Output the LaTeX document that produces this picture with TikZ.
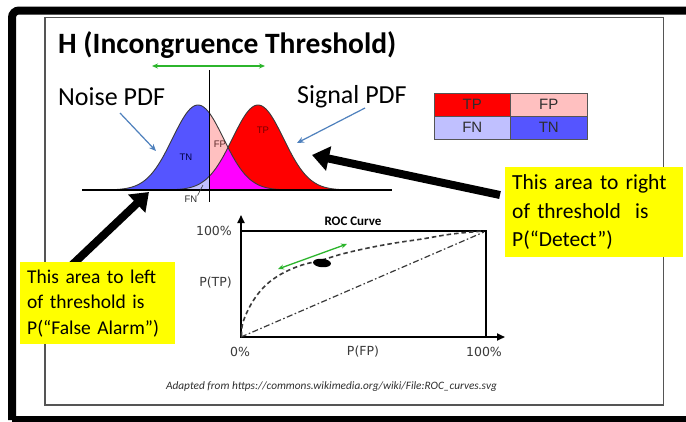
\documentclass[tikz,border=0pt]{standalone}
\usepackage{fontspec}
\setmainfont{Carlito}
\newfontfamily\legfont{Liberation Sans}
\newfontfamily\rocfont{DejaVu Sans}
\usetikzlibrary{arrows.meta,shapes.geometric}
\definecolor{tnblue}{HTML}{5555FF}
\definecolor{fnblue}{HTML}{C0C0FF}
\definecolor{fppink}{HTML}{FFC0C0}
\definecolor{tpred}{HTML}{FF0000}
\definecolor{overlap}{HTML}{FF00FF}
\definecolor{callblue}{HTML}{4F81BD}
\definecolor{movegreen}{HTML}{2CB52C}
\definecolor{framegray}{HTML}{555555}
\definecolor{textgray}{HTML}{2E2E2E}
\definecolor{rocgray}{HTML}{3A3A3A}
\definecolor{hiyellow}{HTML}{FFFF00}
\tikzset{
  curveline/.style={draw=rocgray, line width=0.9pt},
  legcell/.style={draw=framegray, line width=1pt, minimum width=76.5pt, minimum height=23pt, inner sep=0pt, font=\legfont\fontsize{15}{17}\selectfont, text=textgray},
  pdflabel/.style={font=\legfont\fontsize{9.5}{11}\selectfont, inner sep=0pt},
  callout/.style={fill=hiyellow, anchor=north west, inner xsep=7pt, inner ysep=0pt, align=left},
  bigarrow/.style={line width=8pt, -{Triangle[length=17pt,width=24pt]}},
  pointer/.style={draw=callblue, line width=1.2pt, -{Stealth[length=7pt,width=6pt]}},
  slide/.style={draw=movegreen, line width=1.3pt, {Stealth[length=6pt,width=5pt]}-{Stealth[length=6pt,width=5pt]}},
  rocaxis/.style={line width=1.8pt, -{Triangle[length=8pt,width=7pt]}},
  roctext/.style={font=\rocfont\fontsize{12.5}{14}\selectfont, text=rocgray, inner sep=0pt},
  declare function={noise(\t)=190-85*exp(-(\t-198)*(\t-198)/1300.5);
                    signal(\t)=190-85*exp(-(\t-258)*(\t-258)/1300.5);}
}
\begin{document}
\begin{tikzpicture}[x=1pt,y=-1pt]
\useasboundingbox (0,0) rectangle (686,421);
\fill[white] (0,0) rectangle (686,421);
% outer frame
\draw[line width=8pt, rounded corners=7pt] (12,420) -- (12,10.5) -- (700,10.5);
\draw[line width=8pt] (12,420) -- (700,420);
% inner frame
\draw[framegray, line width=1.6pt] (45,17.5) rectangle (663.5,405);

% title
\node[anchor=base west, inner sep=0pt, font=\bfseries\fontsize{29.5}{32}\selectfont] (title) at (58,53) {H (Incongruence Threshold)};

% threshold slider
\coordinate (slideL) at (152,66);
\coordinate (slideR) at (265,66);
\draw[slide] (slideL) -- (slideR);

% PDF regions
\fill[tnblue] (113,190) -- plot[domain=113:209,samples=60] (\x,{noise(\x)}) -- (209,190) -- cycle;
\fill[fppink] (209,190) -- plot[domain=209:288,samples=50] (\x,{noise(\x)}) -- cycle;
\fill[tpred] (209,190) -- plot[domain=209:345,samples=80] (\x,{signal(\x)}) -- cycle;
\fill[overlap] (209,190) -- plot[domain=209:228,samples=20] (\x,{signal(\x)}) -- plot[domain=228:288,samples=40] (\x,{noise(\x)}) -- cycle;
\fill[fnblue] (170,190) -- plot[domain=170:209,samples=30] (\x,{signal(\x)}) -- (209,190) -- cycle;
\draw[curveline] plot[domain=110:290,samples=100] (\x,{noise(\x)});
\draw[curveline] plot[domain=168:348,samples=100] (\x,{signal(\x)});

% baseline and threshold
\coordinate (baseL) at (82,190);
\coordinate (baseR) at (392,190);
\draw[line width=1.1pt] (baseL) -- (baseR);
\coordinate (thrT) at (209,70);
\coordinate (thrB) at (209,202);
\draw[line width=1pt] (thrT) -- (thrB);

% region labels
\node[pdflabel, text=black!75!blue] (lblTN) at (186,157) {TN};
\node[pdflabel, text=black!55!red] (lblTP) at (263,130) {TP};
\node[pdflabel, text=textgray!80!red] (lblFP) at (220,144) {FP};
\node[pdflabel, text=textgray] (lblFN) at (191,199) {FN};
\coordinate (fnpt) at (203,185);
\draw[rocgray, line width=0.6pt] (lblFN.north east) -- (fnpt);

% PDF captions
\node[anchor=base west, inner sep=0pt, font=\fontsize{26}{28}\selectfont] (noiselbl) at (58,105) {Noise PDF};
\node[anchor=base west, inner sep=0pt, font=\fontsize{26}{28}\selectfont] (signallbl) at (297,103) {Signal PDF};
\coordinate (noiseA) at (120,113);
\coordinate (noiseB) at (156,151);
\draw[pointer] (noiseA) -- (noiseB);
\coordinate (sigA) at (365,108);
\coordinate (sigB) at (297,143);
\draw[pointer] (sigA) -- (sigB);

% legend
\node[legcell, fill=tpred] (legTP) at (472.25,104.5) {TP};
\node[legcell, fill=fppink] (legFP) at (548.75,104.5) {FP};
\node[legcell, fill=fnblue] (legFN) at (472.25,127.5) {FN};
\node[legcell, fill=tnblue] (legTN) at (548.75,127.5) {TN};

% callouts and big arrows
\coordinate (rtail) at (500,195);
\coordinate (rtip) at (312,155);
\draw[bigarrow] (rtail) -- (rtip);
\coordinate (ltail) at (72,265);
\coordinate (ltip) at (149,192);
\draw[bigarrow] (ltail) -- (ltip);
\node[callout, text width=164pt, minimum height=90pt, font=\fontsize{21.5}{28.5}\selectfont] (rbox) at (505,167)
  {This area to right\\of threshold~ is\\P(“Detect”)};
\node[callout, text width=141pt, minimum height=82pt, font=\fontsize{19.5}{25.5}\selectfont] (lbox) at (20,262)
  {This area to left\\of threshold is\\P(“False Alarm”)};

% ROC chart
\coordinate (roco) at (241,337);
\coordinate (rocne) at (486,231);
\coordinate (ytop) at (241,215);
\coordinate (xend) at (505,337);
\draw[line width=1.5pt] (roco) rectangle (rocne);
\draw[rocaxis] (roco) -- (ytop);
\draw[rocaxis] (roco) -- (xend);
\coordinate (diagend) at (484,232);
\draw[rocgray, line width=1.2pt, dash pattern=on 6pt off 2.5pt on 1.5pt off 2.5pt] (roco) -- (diagend);
\draw[rocgray, line width=1.6pt, dash pattern=on 4.5pt off 3pt] plot[smooth, tension=0.6] coordinates {(241.5,336) (242.5,324) (248,310) (255,298) (263,288) (272,280) (285,272) (302,265) (322,260) (342,254) (368,248) (395,243) (422,239) (452,234) (484,231)};
\node[ellipse, fill=black, minimum width=18pt, minimum height=8.5pt, inner sep=0pt, rotate=-5] (oppt) at (322,263) {};
\coordinate (rslideA) at (278,269);
\coordinate (rslideB) at (347,244);
\draw[slide] (rslideA) -- (rslideB);
\node[font=\bfseries\fontsize{13}{15}\selectfont, inner sep=0pt] (roctitle) at (353,221) {ROC Curve};
\node[roctext, anchor=east] (y100) at (232,231) {100\%};
\node[roctext, anchor=east] (ytp) at (232,283) {P(TP)};
\node[roctext] (x0) at (240,352) {0\%};
\node[roctext] (xfp) at (363,352) {P(FP)};
\node[roctext] (x100) at (484,352) {100\%};

% credit
\node[font=\itshape\fontsize{11.3}{13}\selectfont, text=textgray, inner sep=0pt] (credit) at (331.5,387) {Adapted from https://commons.wikimedia.org/wiki/File:ROC\_curves.svg};
\end{tikzpicture}
\end{document}
